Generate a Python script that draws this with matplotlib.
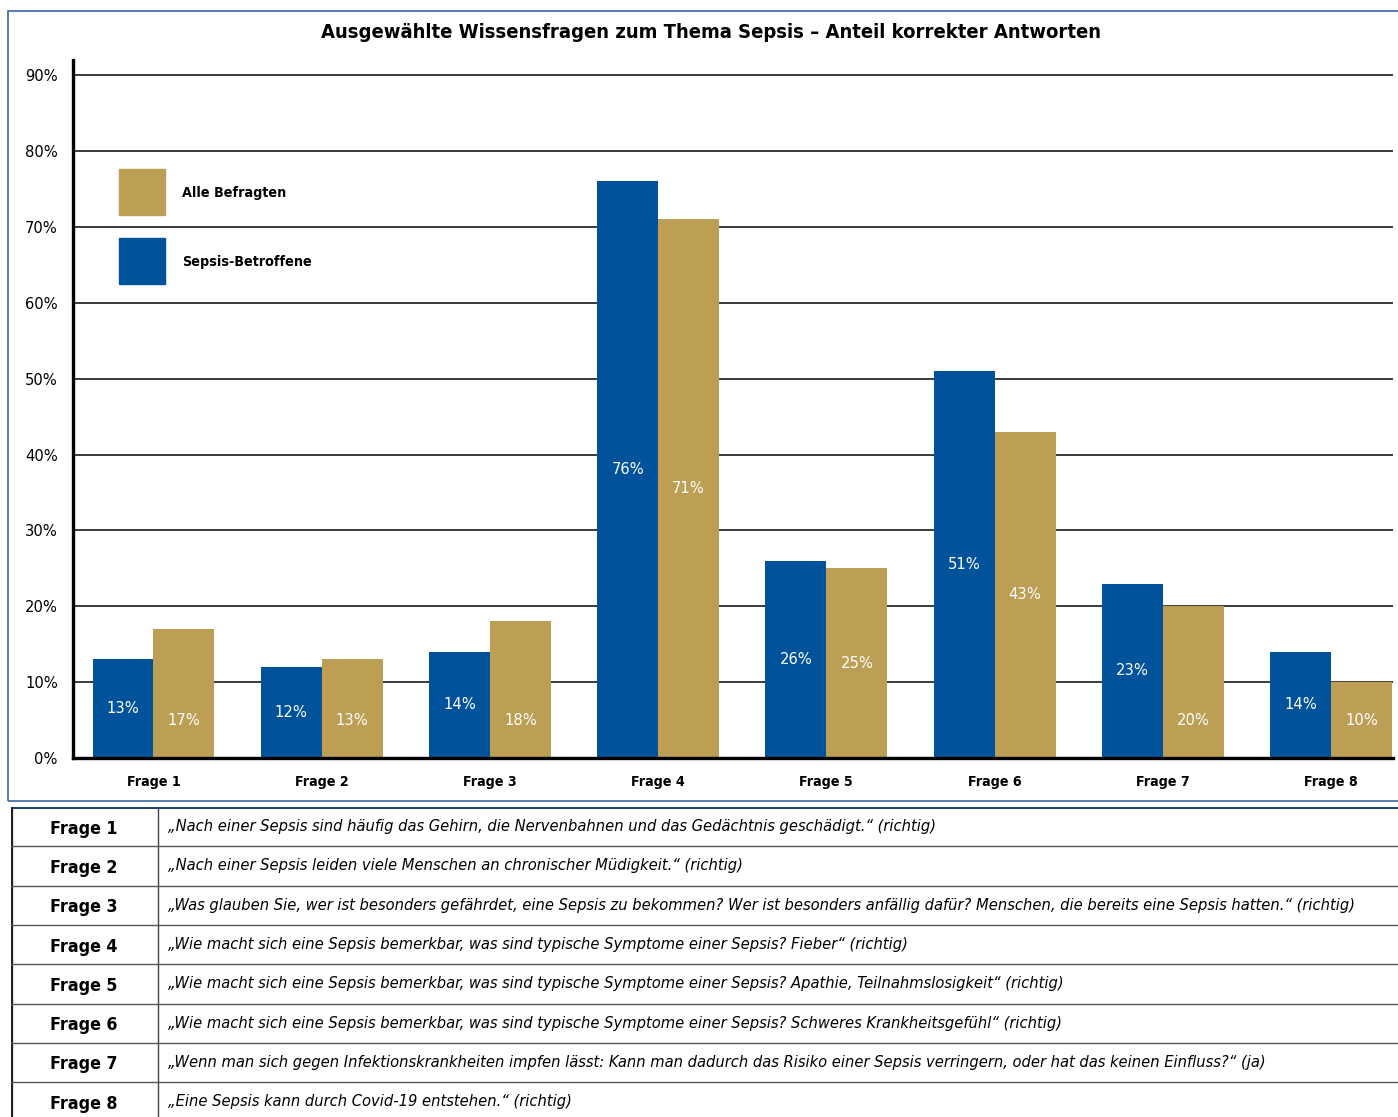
import matplotlib
matplotlib.use("Agg")
import matplotlib.pyplot as plt
from matplotlib.patches import Rectangle

fragen = ["Frage 1", "Frage 2", "Frage 3", "Frage 4", "Frage 5", "Frage 6", "Frage 7", "Frage 8"]
betroffene = [13, 12, 14, 76, 26, 51, 23, 14]   # Sepsis-Betroffene
alle = [17, 13, 18, 71, 25, 43, 20, 10]         # Alle Befragten
yticks = [0, 10, 20, 30, 40, 50, 60, 70, 80, 90]
fragetexte = [
    "„Nach einer Sepsis sind häufig das Gehirn, die Nervenbahnen und das Gedächtnis geschädigt.“ (richtig)",
    "„Nach einer Sepsis leiden viele Menschen an chronischer Müdigkeit.“ (richtig)",
    "„Was glauben Sie, wer ist besonders gefährdet, eine Sepsis zu bekommen? Wer ist besonders anfällig dafür? Menschen, die bereits eine Sepsis hatten.“ (richtig)",
    "„Wie macht sich eine Sepsis bemerkbar, was sind typische Symptome einer Sepsis? Fieber“ (richtig)",
    "„Wie macht sich eine Sepsis bemerkbar, was sind typische Symptome einer Sepsis? Apathie, Teilnahmslosigkeit“ (richtig)",
    "„Wie macht sich eine Sepsis bemerkbar, was sind typische Symptome einer Sepsis? Schweres Krankheitsgefühl“ (richtig)",
    "„Wenn man sich gegen Infektionskrankheiten impfen lässt: Kann man dadurch das Risiko einer Sepsis verringern, oder hat das keinen Einfluss?“ (ja)",
    "„Eine Sepsis kann durch Covid-19 entstehen.“ (richtig)",
]

BLAU = "#00529b"
GOLD = "#bc9e55"
RAHMEN = "#4a6fb0"

plt.rcParams["font.family"] = ["DejaVu Sans"]
plt.rcParams["font.stretch"] = "condensed"

W, H = 1398, 1117
fig = plt.figure(figsize=(W / 100, H / 100), dpi=100)

def fx(px):
    return px / W

def fy(py):
    return 1 - py / H

# Rahmen um das Diagramm
fig.add_artist(Rectangle((fx(8), fy(801)), fx(1400) - fx(8), fy(11) - fy(801),
                         transform=fig.transFigure, fill=False, ec=RAHMEN, lw=1.3))

ax = fig.add_axes([fx(73), fy(758), fx(1393) - fx(73), fy(60) - fy(758)])
x = list(range(len(fragen)))
bw = 0.362
ax.bar([i - bw / 2 for i in x], betroffene, width=bw, color=BLAU, zorder=3)
ax.bar([i + bw / 2 for i in x], alle, width=bw, color=GOLD, zorder=3)

for i, (b, a) in enumerate(zip(betroffene, alle)):
    ax.text(i - bw / 2, b / 2, f"{b}%", color="white", ha="center", va="center",
            fontsize=11.8, zorder=4)
    ya = a / 2 if a > 20 else 5
    ax.text(i + bw / 2, ya, f"{a}%", color="white", ha="center", va="center",
            fontsize=11.8, zorder=4)

ax.set_xlim(-0.478, 7.368)
ax.set_ylim(0, 92)
ax.set_yticks(yticks)
ax.set_yticklabels([f"{t}%" for t in yticks], fontsize=11.8)
ax.set_xticks(x)
ax.set_xticklabels(fragen, fontsize=10.2, fontweight="bold")
ax.tick_params(axis="y", length=0, pad=11)
ax.tick_params(axis="x", length=0, pad=12)
for t in yticks[1:]:
    ax.axhline(t, color="#3a3a3a", lw=1.4, zorder=1)
for s in ["top", "right"]:
    ax.spines[s].set_visible(False)
ax.spines["left"].set_linewidth(2.4)
ax.spines["bottom"].set_linewidth(2.4)
ax.spines["bottom"].set_zorder(5)

# Legende
for farbe, text, ytop in [(GOLD, "Alle Befragten", 169), (BLAU, "Sepsis-Betroffene", 238)]:
    fig.add_artist(Rectangle((fx(119), fy(ytop + 46)), fx(46), 46 / H,
                             transform=fig.transFigure, color=farbe))
    fig.text(fx(182), fy(ytop + 24), text, fontsize=10.3, fontweight="bold",
             va="center", ha="left")

fig.text(fx(711), fy(32), "Ausgewählte Wissensfragen zum Thema Sepsis – Anteil korrekter Antworten",
         ha="center", va="center", fontsize=14.5, fontweight="bold")

# Tabelle mit den Fragen
row_h = 39.3
top = 807
tab = fig.add_axes([fx(11), fy(top + 8 * row_h), 1 - fx(11), fy(top) - fy(top + 8 * row_h)])
tab.set_xlim(11, W)
tab.set_ylim(8, 0)
tab.axis("off")
tab.axhline(0, color="#1f3f7a", lw=2.2)
tab.axvline(11.5, color="#222222", lw=1.6)
tab.axvline(158, color="#444444", lw=1.0)
for r in range(1, 8):
    tab.axhline(r, color="#555555", lw=1.0)
for r, (f, t) in enumerate(zip(fragen, fragetexte)):
    tab.text(84, r + 0.55, f, ha="center", va="center", fontsize=12.8, fontweight="bold")
    tab.text(168, r + 0.5, t, ha="left", va="center", fontsize=11.75, style="italic")

fig.savefig("out.png", dpi=100)
